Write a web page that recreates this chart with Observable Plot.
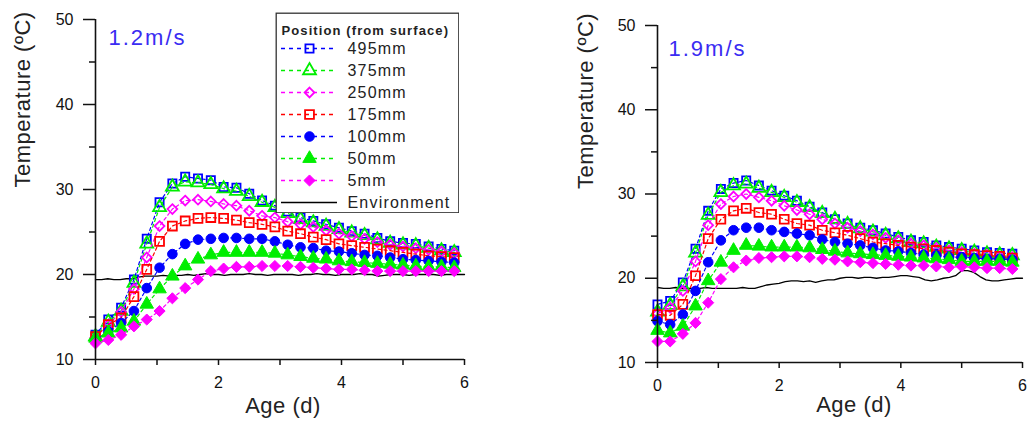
<!DOCTYPE html>
<html><head><meta charset="utf-8">
<script src="https://cdn.jsdelivr.net/npm/d3@7"></script>
<script src="https://cdn.jsdelivr.net/npm/@observablehq/plot@0.6"></script>
<style>
html,body{margin:0;padding:0;background:#fff;}
#wrap{position:relative;width:1030px;height:436px;overflow:hidden;font-family:"Liberation Sans",Arial,sans-serif;}
#left{position:absolute;left:0;top:0;}
#right{position:absolute;left:560px;top:0;}
#legend{position:absolute;left:275px;top:12px;}
</style></head>
<body><div id="wrap"><div id="left"></div><div id="right"></div><div id="legend"></div></div>
<script>
// ---- data ----
const depths = ["495mm","375mm","250mm","175mm","100mm","50mm","5mm"];
const ageHours = [0,5,10,15,20,25,30,35,40,45,50,55,60,65,70,75,80,85,90,95,100,105,110,115,120,125,130,135,140];
const envAge = [0,0.1,0.2,0.3,0.4,0.5,0.6,0.7,0.8,0.9,1.0,1.1,1.2,1.3,1.4,1.5,1.6,1.7,1.8,1.9,2.0,2.1,2.2,2.3,2.4,2.5,2.6,2.7,2.8,2.9,3.0,3.1,3.2,3.3,3.4,3.5,3.6,3.7,3.8,3.9,4.0,4.1,4.2,4.3,4.4,4.5,4.6,4.7,4.8,4.9,5.0,5.1,5.2,5.3,5.4,5.5,5.6,5.7,5.8,5.9,6.0];

// 1.2 m/s panel
const v12_495 = [12.9,14.7,16.1,19.4,24.2,28.5,30.7,31.5,31.3,31.1,30.3,30.2,29.5,28.7,28.1,27.4,26.7,26.3,25.9,25.5,25.1,24.8,24.3,23.9,23.7,23.6,23.3,23.0,22.8];
const v12_375 = [12.7,14.4,15.7,19.0,23.6,27.9,30.3,30.9,30.8,30.6,30.1,29.8,29.2,28.5,27.9,27.2,26.5,26.1,25.7,25.3,24.9,24.6,24.1,23.7,23.5,23.4,23.1,22.8,22.6];
const v12_250 = [12.6,14.1,15.6,18.3,22.0,25.7,27.7,28.7,28.8,28.6,28.3,28.1,27.5,26.9,26.7,26.2,25.9,25.6,25.2,24.8,24.5,24.2,23.8,23.5,23.3,23.1,22.9,22.7,22.5];
const v12_175 = [12.7,14.1,14.9,17.4,20.6,23.9,25.7,26.3,26.6,26.7,26.6,26.4,26.1,25.9,25.6,25.1,24.8,24.4,24.1,23.6,23.4,23.2,23.0,22.8,22.6,22.4,22.2,22.1,22.0];
const v12_100 = [12.3,13.3,14.3,15.7,18.4,20.8,22.4,23.6,24.1,24.2,24.3,24.3,24.2,24.2,23.9,23.5,23.2,23.1,22.8,22.7,22.5,22.3,22.2,22.0,21.8,21.7,21.6,21.5,21.4];
const v12_50  = [12.5,13.1,13.7,14.5,16.5,18.3,19.8,21.0,21.8,22.3,22.6,22.6,22.6,22.6,22.5,22.3,22.1,21.9,21.8,21.6,21.5,21.4,21.3,21.2,21.1,21.0,20.9,20.9,20.8];
const v12_5   = [11.9,12.3,12.9,13.9,14.7,15.7,17.2,18.4,19.4,20.4,20.7,20.9,20.9,21.0,21.0,21.0,20.9,20.8,20.7,20.6,20.6,20.5,20.4,20.4,20.4,20.4,20.4,20.4,20.4];
const v12_env = [19.4,19.4,19.5,19.4,19.4,19.5,19.5,19.7,19.8,19.8,19.8,19.9,19.8,19.9,19.9,20.0,19.9,20.0,20.1,20.0,20.0,19.9,20.0,20.0,20.0,20.1,20.0,20.0,19.9,20.0,20.0,20.0,20.0,19.9,20.0,20.0,20.1,20.0,20.0,19.9,20.0,20.0,20.0,20.1,20.0,20.0,19.8,19.9,20.0,20.0,20.0,19.9,20.0,20.0,20.0,20.0,19.9,20.0,20.0,20.0,20.0];

// 1.9 m/s panel
const v19_495 = [16.9,17.3,19.5,23.5,28.0,30.6,31.3,31.6,31.0,30.4,29.8,29.2,28.5,27.8,27.0,26.5,26.0,25.7,25.3,24.9,24.5,24.3,23.9,23.7,23.5,23.3,23.1,23.0,22.9];
const v19_375 = [16.0,16.8,19.0,23.0,27.5,30.2,31.0,31.2,30.7,30.2,29.6,29.0,28.4,27.7,27.0,26.4,25.9,25.5,25.1,24.7,24.3,24.1,23.7,23.5,23.3,23.1,22.9,22.8,22.7];
const v19_250 = [15.8,16.5,18.5,22.0,26.3,28.8,29.7,30.0,29.6,29.2,28.6,28.1,27.6,27.0,26.5,26.0,25.6,25.2,24.8,24.5,24.1,23.9,23.6,23.3,23.1,22.9,22.8,22.6,22.5];
const v19_175 = [15.7,15.6,16.9,20.3,24.7,27.0,28.0,28.3,27.8,27.6,27.0,26.5,26.3,25.7,25.4,25.1,24.7,24.3,24.1,23.9,23.7,23.5,23.3,23.1,22.9,22.8,22.7,22.6,22.4];
const v19_100 = [14.9,14.5,15.7,18.5,21.9,24.5,25.7,26.0,26.0,25.7,25.5,25.3,25.1,24.6,24.3,24.1,23.9,23.6,23.3,23.2,23.0,22.8,22.7,22.5,22.5,22.4,22.3,22.3,22.2];
const v19_50  = [13.8,13.5,14.3,16.7,19.7,21.9,23.3,23.9,23.8,23.7,23.7,23.7,23.6,23.4,23.2,23.0,22.9,22.8,22.7,22.6,22.5,22.4,22.3,22.2,22.0,22.0,22.0,22.0,21.9];
const v19_5   = [12.5,12.5,13.4,14.7,17.1,19.9,21.3,22.1,22.4,22.5,22.6,22.6,22.5,22.3,22.2,22.0,21.9,21.8,21.7,21.6,21.5,21.5,21.4,21.3,21.4,21.3,21.2,21.2,21.1];
const v19_env = [18.9,18.8,18.8,18.9,18.8,18.8,18.8,18.8,18.9,18.8,18.8,18.8,18.8,18.8,18.9,18.8,18.8,19.0,19.2,19.3,19.4,19.6,19.7,19.7,19.6,19.7,19.5,19.7,19.8,19.8,20.0,20.1,20.1,20.0,20.1,20.1,20.0,20.1,20.1,20.2,20.3,20.3,20.2,20.1,19.8,19.7,19.8,20.0,20.1,20.3,20.9,20.9,20.7,20.2,19.8,19.7,19.7,19.8,19.9,20.0,20.0];

const yTicks = [10,20,30,40,50], yMinor = [15,25,35,45];
const xTicksAll = [0,1,2,3,4,5,6], xLabelled = [0,2,4,6];

// ---- styles ----
const seriesStyle = [
  {color:"#0000ff", symbol:"square",   filled:false, r:4.6},
  {color:"#00ee00", symbol:"triangle", filled:false, r:4.8},
  {color:"#ff00ff", symbol:"diamond2", filled:false, r:4.4},
  {color:"#ff0000", symbol:"square",   filled:false, r:5},
  {color:"#0000ff", symbol:"circle",   filled:true,  r:4.8},
  {color:"#00ee00", symbol:"triangle", filled:true,  r:5},
  {color:"#ff00ff", symbol:"diamond2", filled:true,  r:5}
];
const FONT = "'Liberation Sans', Arial, sans-serif";
const AX = "#111";

function dotOpts(st, extra) {
  return Object.assign({
    symbol: st.symbol, r: st.r, stroke: st.color,
    strokeWidth: st.filled ? 1 : 1.8,
    fill: st.filled ? st.color : "none"
  }, extra);
}

function spaceText(svg, spacing, labels) {
  svg.querySelectorAll("text").forEach(t => {
    if (labels.includes(t.textContent)) t.style.letterSpacing = spacing;
  });
}

function panel(cfg) {
  const marks = [];
  const env = envAge.map((a, i) => ({age: a, temp: cfg.env[i]}));
  marks.push(Plot.line(env, {x: "age", y: "temp", stroke: "#000", strokeWidth: 1.3}));
  cfg.series.forEach((vals, j) => {
    const st = seriesStyle[j];
    const data = ageHours.map((h, i) => ({age: h / 24, temp: vals[i]}));
    marks.push(Plot.line(data, {x: "age", y: "temp", stroke: st.color, strokeWidth: 1.2, strokeDasharray: "3,3"}));
    marks.push(Plot.dot(data, dotOpts(st, {x: "age", y: "temp"})));
  });
  marks.push(
    Plot.ruleY([10], {stroke: AX, strokeWidth: 1.6}),
    Plot.ruleX([0], {stroke: AX, strokeWidth: 1.6}),
    Plot.axisY({ticks: yTicks, tickSize: 12, tickPadding: 10, fontSize: 16, tickFormat: d => String(d), stroke: AX, strokeWidth: 1.5, label: null}),
    Plot.axisY({ticks: yMinor, tickSize: 6, tickFormat: () => "", stroke: AX, strokeWidth: 1.5, label: null}),
    Plot.axisX({ticks: xTicksAll, tickSize: 6, tickPadding: 11, fontSize: 16, tickFormat: d => xLabelled.includes(d) ? String(d) : "", stroke: AX, strokeWidth: 1.5, label: null}),
    Plot.text(["Temperature (ºC)"], {frameAnchor: "left", rotate: -90, dx: cfg.yTitleDx, dy: cfg.yTitleDy, fontSize: 22, fill: "#222"}),
    Plot.text(["Age (d)"], {frameAnchor: "bottom", dx: cfg.xTitleDx, dy: cfg.xTitleDy, fontSize: 22, fill: "#222"}),
    Plot.text([cfg.title], {frameAnchor: "top-left", textAnchor: "start", dx: cfg.titleDx, dy: cfg.titleDy, fontSize: 22, fill: "#3a2cf2"})
  );
  const svg = Plot.plot({
    width: cfg.width, height: 436,
    marginLeft: cfg.ml, marginRight: cfg.mr, marginTop: cfg.mt, marginBottom: cfg.mb,
    x: {domain: [0, 6]},
    y: {domain: [10, 50]},
    style: {fontFamily: FONT, color: "#111", background: "transparent"},
    marks
  });
  spaceText(svg, "0.5px", ["Temperature (ºC)", "Age (d)"]);
  spaceText(svg, "2px", [cfg.title]);
  return svg;
}

document.getElementById("left").append(panel({
  width: 560, ml: 95, mr: 96, mt: 19, mb: 77,
  series: [v12_495, v12_375, v12_250, v12_175, v12_100, v12_50, v12_5], env: v12_env,
  title: "1.2m/s", titleDx: 13, titleDy: 10,
  yTitleDx: -73, yTitleDy: -2, xTitleDx: 3, xTitleDy: 53
}));
document.getElementById("right").append(panel({
  width: 470, ml: 97, mr: 8, mt: 25, mb: 74,
  series: [v19_495, v19_375, v19_250, v19_175, v19_100, v19_50, v19_5], env: v19_env,
  title: "1.9m/s", titleDx: 11, titleDy: 15,
  yTitleDx: -72, yTitleDy: -5, xTitleDx: 14, xTitleDy: 49
}));

// ---- legend ----
const legendLabels = [...depths, "Environment"];
const legendTitle = "Position (from surface)";
const legendMarks = [
  Plot.frame({fill: "white", stroke: "#333", strokeWidth: 1.3, inset: 0.7}),
  Plot.text([legendTitle], {frameAnchor: "top-left", textAnchor: "start", dx: 6, dy: 13, fontSize: 13, fontWeight: "bold", fill: "#222"})
];
depths.forEach((lab, j) => {
  const st = seriesStyle[j];
  legendMarks.push(Plot.ruleY([lab], {y: d => d, x1: 0, x2: 1, stroke: st.color, strokeWidth: 1.3, strokeDasharray: "4,4"}));
  legendMarks.push(Plot.dot([lab], dotOpts(st, {x: 0.5, y: d => d})));
});
legendMarks.push(Plot.ruleY(["Environment"], {y: d => d, x1: 0, x2: 1, stroke: "#000", strokeWidth: 1.4}));
legendMarks.push(Plot.text(legendLabels, {x: 1, y: d => d, dx: 10, textAnchor: "start", fontSize: 16, fill: "#222"}));
const legendSvg = Plot.plot({
  width: 184, height: 201, margin: 0,
  x: {domain: [0, 1], range: [6, 62], axis: null},
  y: {type: "point", domain: legendLabels, range: [35, 190], padding: 0, axis: null},
  style: {fontFamily: FONT, background: "transparent"},
  marks: legendMarks
});
spaceText(legendSvg, "1.2px", legendLabels);
spaceText(legendSvg, "1.1px", [legendTitle]);
document.getElementById("legend").append(legendSvg);
</script></body></html>
